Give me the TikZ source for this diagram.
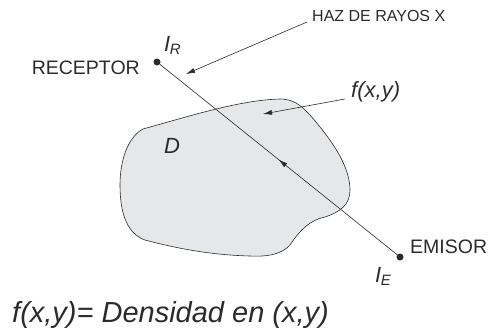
\documentclass[tikz,border=0pt]{standalone}
\usepackage{fontspec}
\setmainfont{Liberation Sans}
\usetikzlibrary{arrows.meta,decorations.markings}
\definecolor{ink}{HTML}{2B2B2B}
\definecolor{blob}{HTML}{E6E7E8}
\begin{document}
\begin{tikzpicture}[x=1pt,y=-1pt,
  lbl/.style={inner sep=0pt,text=ink,font=\fontsize{19.5}{19.5}\selectfont},
  ital/.style={inner sep=0pt,text=ink,font=\fontsize{22}{22}\selectfont\itshape},
  arr/.style={draw=ink,line width=0.6pt,-{Latex[length=9pt,width=5pt]}},
  dot/.style={circle,fill=ink,inner sep=0pt,minimum size=7pt}]
\useasboundingbox (0,0) rectangle (488,335);
% region D
\draw[ink,line width=0.6pt,fill=blob]
  (143,129) .. controls (190,116) and (240,100) .. (280,99)
  .. controls (292,99) and (300,104) .. (310,115)
  .. controls (330,138) and (350,165) .. (350,190)
  .. controls (350,205) and (340,212) .. (325,217)
  .. controls (310,220) and (300,230) .. (290,245)
  .. controls (282,254) and (268,257) .. (250,256)
  .. controls (210,255) and (175,248) .. (145,240)
  .. controls (128,234) and (120,215) .. (120,185)
  .. controls (120,160) and (128,137) .. (143,129) -- cycle;
% receptor and emitter
\node[dot] (R) at (157,62) {};
\node[dot] (E) at (400,257) {};
\draw[ink,line width=0.6pt,
  postaction={decorate,decoration={markings,mark=at position 0.53 with {\arrow{Latex[length=9pt,width=5pt,reversed]}}}}]
  (R) -- (E);
% labels
\node[lbl,anchor=east] (rec) at (140,68) {RECEPTOR};
\node[lbl,anchor=west] (emi) at (410,247) {EMISOR};
\node[lbl,anchor=west,font=\fontsize{16}{16}\selectfont] (haz) at (312,16) {HAZ DE RAYOS X};
\node[ital,anchor=base west] (IR) at (164,51) {I\kern-0.5pt\raisebox{-0.3ex}{\fontsize{15}{15}\selectfont R}};
\node[ital,anchor=base west] (IE) at (375,282) {I\kern-0.5pt\raisebox{-0.3ex}{\fontsize{15}{15}\selectfont E}};
\node[ital,anchor=west] (fxy) at (351,92) {f(x,y)};
\node[ital,anchor=center] (D) at (172,146) {D};
\node[ital,anchor=west,font=\fontsize{29}{29}\selectfont\itshape] (cap) at (12,315) {f(x,y)= Densidad en (x,y)};
% pointers
\coordinate (hazs) at (307,22);
\coordinate (hazt) at (186,74);
\draw[arr] (hazs) -- (hazt);
\coordinate (fs) at (345,99);
\coordinate (ft) at (263,114);
\draw[arr] (fs) -- (ft);
\end{tikzpicture}
\end{document}
